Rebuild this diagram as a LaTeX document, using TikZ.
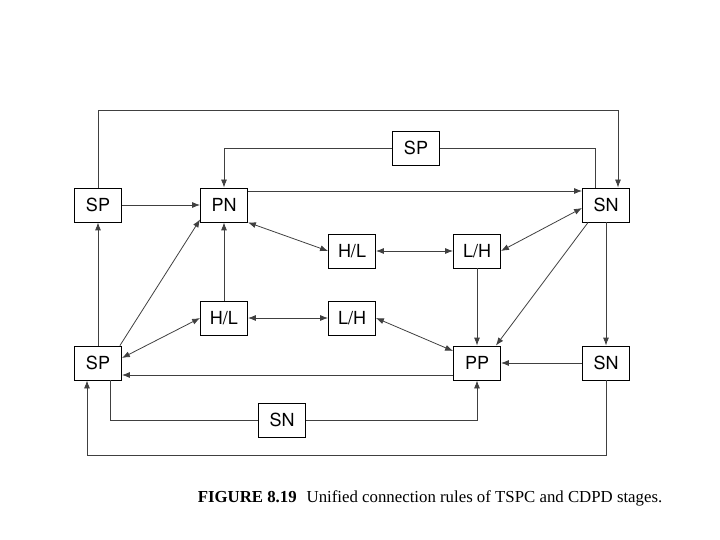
\documentclass[tikz,border=0pt]{standalone}
\usepackage{fontspec}
\setmainfont{Liberation Serif}
\newfontfamily\boxfont{TeX Gyre Heros}
\usetikzlibrary{arrows.meta}
\tikzset{
  blk/.style={draw,thick,minimum width=47pt,minimum height=34pt,inner sep=0pt,font=\boxfont\fontsize{18}{20}\selectfont},
  lnk/.style={thick,draw=black!75,-{Latex[length=8pt,width=6pt]}},
  both/.style={lnk,{Latex[length=8pt,width=6pt]}-{Latex[length=8pt,width=6pt]}}
}
\begin{document}
\begin{tikzpicture}[x=1pt,y=-1pt]
\useasboundingbox (0,0) rectangle (720,540);
\path
node[blk] (spa) at (98,205) {SP}
node[blk] (pn) at (224,205) {PN}
node[blk] (spt) at (416,148) {SP}
node[blk] (sna) at (606,205) {SN}
node[blk] (hla) at (352,251) {H/L}
node[blk] (lha) at (477,251) {L/H}
node[blk] (hlb) at (224,318) {H/L}
node[blk] (lhb) at (352,318) {L/H}
node[blk] (spb) at (98,363) {SP}
node[blk] (pp) at (477,363) {PP}
node[blk] (snb) at (606,363) {SN}
node[blk] (snc) at (282,420) {SN};
\draw[lnk] (spa.north) |- (618,110) -- ([xshift=12pt]sna.north);
\draw[lnk] (spt.west) -| (pn.north);
\draw[thick,draw=black!75] (spt.east) -| ([xshift=-11pt]sna.north);
\draw[lnk] (spa) -- (pn);
\draw[lnk] ([yshift=14pt]pn.east) -- ([yshift=14pt]sna.west);
\draw[both] (pn.south east) -- (hla.west);
\draw[both] (hla) -- (lha);
\draw[both] (lha.east) -- ([yshift=-3pt]sna.west);
\draw[lnk] (lha) -- (pp);
\draw[lnk] ([xshift=6pt]sna.south west) -- ([xshift=-5pt]pp.north east);
\draw[lnk] (sna) -- (snb);
\draw[lnk] (snb) -- (pp);
\draw[lnk] ([yshift=-12pt]pp.west) -- ([yshift=-12pt]spb.east);
\draw[lnk] (spb) -- (spa);
\draw[lnk] ([xshift=-2pt]spb.north east) -- ([yshift=3pt]pn.south west);
\draw[lnk] (hlb) -- (pn);
\draw[both] (hlb.west) -- ([yshift=5pt]spb.east);
\draw[both] (hlb) -- (lhb);
\draw[both] (lhb.east) -- ([yshift=12pt]pp.west);
\draw[thick,draw=black!75] ([xshift=12pt]spb.south) |- (snc.west);
\draw[lnk] (snc.east) -| (pp.south);
\draw[lnk] (snb.south) |- (87,455) -- ([xshift=-11pt]spb.south);
\node[font=\fontsize{16.8}{19}\selectfont] (cap) at (430,498) {\textbf{FIGURE 8.19}\hspace{10pt}Unified connection rules of TSPC and CDPD stages.};
\end{tikzpicture}
\end{document}
